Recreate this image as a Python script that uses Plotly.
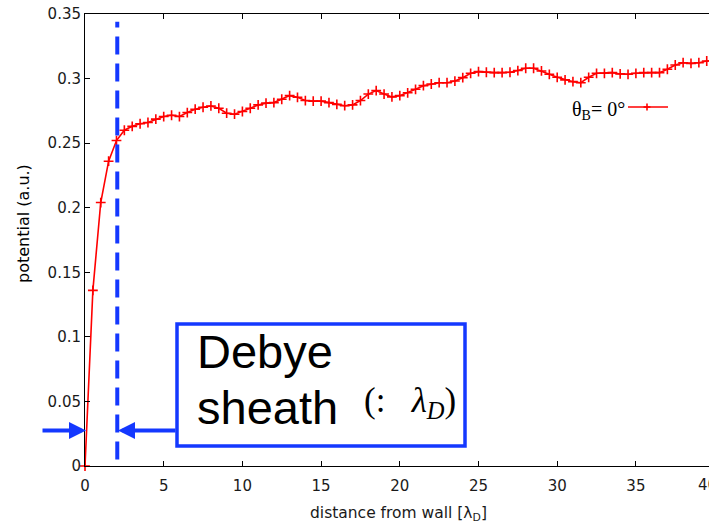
import plotly.graph_objects as go

# ---------------- data ----------------
distance = [0.0, 0.5, 1.0, 1.5, 2.0, 2.5, 3.0, 3.5, 4.0, 4.5,
            5.0, 5.5, 6.0, 6.5, 7.0, 7.5, 8.0, 8.5, 9.0, 9.5,
            10.0, 10.5, 11.0, 11.5, 12.0, 12.5, 13.0, 13.5, 14.0, 14.5,
            15.0, 15.5, 16.0, 16.5, 17.0, 17.5, 18.0, 18.5, 19.0, 19.5,
            20.0, 20.5, 21.0, 21.5, 22.0, 22.5, 23.0, 23.5, 24.0, 24.5,
            25.0, 25.5, 26.0, 26.5, 27.0, 27.5, 28.0, 28.5, 29.0, 29.5,
            30.0, 30.5, 31.0, 31.5, 32.0, 32.5, 33.0, 33.5, 34.0, 34.5,
            35.0, 35.5, 36.0, 36.5, 37.0, 37.5, 38.0, 38.5, 39.0, 39.5,
            40.0]
potential = [0.000, 0.136, 0.204, 0.236, 0.252, 0.260, 0.263, 0.265, 0.266, 0.2686,
             0.2706, 0.2716, 0.2706, 0.2737, 0.2763, 0.2778, 0.2788, 0.2770, 0.2732, 0.2724,
             0.2745, 0.2770, 0.2796, 0.2810, 0.2814, 0.2840, 0.2868, 0.2855, 0.2830, 0.2825,
             0.2825, 0.2814, 0.2800, 0.2790, 0.2796, 0.2830, 0.2880, 0.2907, 0.2880, 0.2858,
             0.2868, 0.2890, 0.2917, 0.2945, 0.2958, 0.2968, 0.2968, 0.2981, 0.3007, 0.3041,
             0.3054, 0.3049, 0.3046, 0.3046, 0.3049, 0.3062, 0.3080, 0.3080, 0.3059, 0.3033,
             0.3010, 0.2990, 0.2976, 0.2968, 0.3010, 0.3041, 0.3041, 0.3046, 0.3036, 0.3033,
             0.3041, 0.3046, 0.3046, 0.3046, 0.3072, 0.3105, 0.3123, 0.3118, 0.3123, 0.3136,
             0.3140]
y_tick_vals = [0, 0.05, 0.1, 0.15, 0.2, 0.25, 0.3, 0.35]
y_tick_text = ["0", "0.05", "0.1", "0.15", "0.2", "0.25", "0.3", "0.35"]
x_tick_vals = [0, 5, 10, 15, 20, 25, 30, 35]
x_tick_text = ["0", "5", "10", "15", "20", "25", "30", "35"]
x_cut_label = "40"
legend_label = "θ<sub>B</sub>= 0°"
sheath_edge = 2.05
x_title = "distance from wall [λ<sub>D</sub>]"
y_title = "potential (a.u.)"

# ---------------- layout helpers ----------------
W, H = 709, 526
L, R, T, B = 85, 0, 14, 60
PW, PH = W - L - R, H - T - B
PX_PER_UNIT = 15.74
XMAX = PW / PX_PER_UNIT

RED = "#ff0000"
BLUE = "#1438ff"
SANS = "DejaVu Sans"
TICKFONT = dict(family=SANS, size=15, color="#1a1a1a")


def fx(px):
    return (px - L) / PW


def fy(py):
    return (H - B - py) / PH


fig = go.Figure()
fig.add_trace(go.Scatter(
    x=distance, y=potential, mode="lines+markers",
    line=dict(color=RED, width=1.6),
    marker=dict(symbol="cross-thin", size=7, color=RED,
                line=dict(color=RED, width=1.6)),
    cliponaxis=False, showlegend=False, hoverinfo="skip"))

shapes = [
    # Debye sheath edge
    dict(type="line", xref="x", yref="y", x0=sheath_edge, x1=sheath_edge,
         y0=0.005, y1=0.344, line=dict(color=BLUE, width=4, dash="18px,9px")),
    # annotation box
    dict(type="rect", xref="paper", yref="paper",
         x0=fx(177), x1=fx(465), y0=fy(446), y1=fy(324),
         line=dict(color=BLUE, width=3.5), fillcolor="rgba(0,0,0,0)"),
    # legend sample line + marker
    dict(type="line", xref="paper", yref="paper",
         x0=fx(628), x1=fx(668), y0=fy(107), y1=fy(107),
         line=dict(color=RED, width=1.6)),
    dict(type="line", xref="paper", yref="paper",
         x0=fx(643.5), x1=fx(650.5), y0=fy(107), y1=fy(107),
         line=dict(color=RED, width=1.6)),
    dict(type="line", xref="paper", yref="paper",
         x0=fx(647), x1=fx(647), y0=fy(103.5), y1=fy(110.5),
         line=dict(color=RED, width=1.6)),
]

annotations = [
    # arrows
    dict(x=fx(86), y=fy(430.5), xref="paper", yref="paper", text="",
         showarrow=True, ax=-45, ay=0, arrowhead=2, arrowsize=0.85,
         arrowwidth=4, arrowcolor=BLUE),
    dict(x=fx(118), y=fy(430.5), xref="paper", yref="paper", text="",
         showarrow=True, ax=59, ay=0, arrowhead=2, arrowsize=0.85,
         arrowwidth=4, arrowcolor=BLUE),
    # box text
    dict(x=fx(195), y=fy(351), xref="paper", yref="paper", text="Debye",
         showarrow=False, xanchor="left", yanchor="middle",
         font=dict(family="Liberation Sans", size=47, color="black")),
    dict(x=fx(195), y=fy(407), xref="paper", yref="paper", text="sheath",
         showarrow=False, xanchor="left", yanchor="middle",
         font=dict(family="Liberation Sans", size=47, color="black")),
    dict(x=fx(362), y=fy(402), xref="paper", yref="paper",
         text="(:&nbsp;&nbsp;&nbsp;<i>λ<sub>D</sub></i>)",
         showarrow=False, xanchor="left", yanchor="middle",
         font=dict(family="Liberation Serif", size=35, color="black")),
    # legend label
    dict(x=fx(627), y=fy(111), xref="paper", yref="paper", text=legend_label,
         showarrow=False, xanchor="right", yanchor="middle",
         font=dict(family="Liberation Serif", size=20, color="black")),
    # axis titles
    dict(x=fx(24), y=fy(224), xref="paper", yref="paper", text=y_title,
         textangle=-90, showarrow=False, xanchor="center", yanchor="middle",
         font=dict(family=SANS, size=16, color="black")),
    dict(x=fx(398), y=fy(514), xref="paper", yref="paper", text=x_title,
         showarrow=False, xanchor="center", yanchor="middle",
         font=dict(family=SANS, size=15.5, color="#1a1a1a")),
    # cut-off last tick label
    dict(x=fx(707.5), y=fy(485), xref="paper", yref="paper", text=x_cut_label,
         showarrow=False, xanchor="center", yanchor="middle",
         font=TICKFONT),
]

fig.update_layout(
    width=W, height=H,
    margin=dict(l=L, r=R, t=T, b=B, pad=0),
    paper_bgcolor="white", plot_bgcolor="white",
    shapes=shapes, annotations=annotations, showlegend=False,
    xaxis=dict(range=[0, XMAX], tickvals=x_tick_vals, ticktext=x_tick_text,
               ticks="inside", ticklen=5, tickcolor="black", tickwidth=1,
               showline=True, linecolor="black", linewidth=1, mirror="ticks",
               showgrid=False, zeroline=False, tickfont=TICKFONT,
               ticklabelstandoff=6),
    yaxis=dict(range=[0, 0.35], tickvals=y_tick_vals, ticktext=y_tick_text,
               ticks="inside", ticklen=5, tickcolor="black", tickwidth=1,
               showline=True, linecolor="black", linewidth=1, mirror=False,
               showgrid=False, zeroline=False, tickfont=TICKFONT),
)

fig.write_html("out.html")
